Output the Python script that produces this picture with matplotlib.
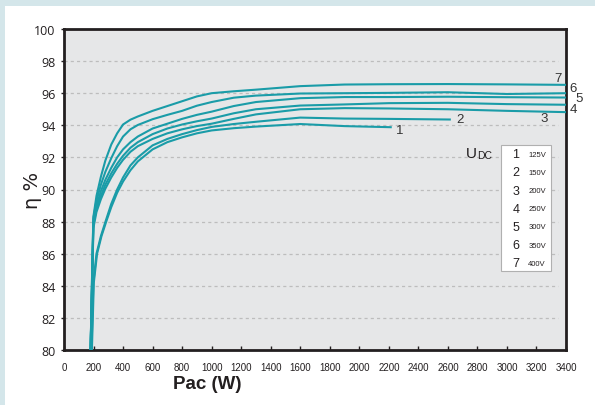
import matplotlib
matplotlib.use("Agg")
import matplotlib.pyplot as plt
from matplotlib.patches import Rectangle

# efficiency curves, one per DC input voltage
p_1 = [189, 202, 224, 254, 286, 320, 360, 400, 450, 500, 600, 700, 800, 900, 1000,
       1150, 1300, 1600, 1900, 2220]
eta_1 = [80, 84.2, 86, 87.1, 88, 88.9, 89.8, 90.5, 91.2, 91.75, 92.5, 92.95, 93.25, 93.5, 93.68,
         93.82, 93.92, 94.08, 93.95, 93.88]

p_2 = [186, 199, 220, 250, 281, 320, 360, 400, 450, 500, 600, 700, 800, 900, 1000,
       1150, 1300, 1600, 1900, 2200, 2620]
eta_2 = [80, 84.2, 86, 87.1, 88, 89.1, 90.0, 90.75, 91.5, 92.0, 92.75, 93.15, 93.45, 93.7, 93.9,
         94.08, 94.22, 94.48, 94.42, 94.4, 94.36]

p_common = [180, 193, 199, 220, 250, 280, 320, 360, 400, 450, 500, 600, 700, 800, 900, 1000,
            1150, 1300, 1600, 1900, 2200, 2600, 3000, 3400]
eta_3 = [80, 85.0, 87.6, 88.6, 89.4, 90.05, 90.75, 91.35, 91.85, 92.35, 92.7, 93.15, 93.5, 93.75,
         93.95, 94.1, 94.4, 94.68, 95.0, 95.07, 95.05, 95.0, 94.9, 94.82]
eta_4 = [80, 85.2, 87.8, 88.8, 89.6, 90.3, 91.0, 91.6, 92.1, 92.6, 92.95, 93.45, 93.8, 94.05,
         94.25, 94.42, 94.75, 95.0, 95.23, 95.3, 95.38, 95.40, 95.32, 95.28]
eta_5 = [80, 85.4, 88.0, 89.0, 89.9, 90.6, 91.35, 92.0, 92.5, 92.95, 93.3, 93.8, 94.1, 94.4,
         94.65, 94.85, 95.2, 95.45, 95.69, 95.76, 95.76, 95.78, 95.75, 95.73]
eta_6 = [80, 85.8, 88.2, 89.3, 90.3, 91.1, 91.95, 92.7, 93.3, 93.75, 94.02, 94.38, 94.65, 94.9,
         95.22, 95.45, 95.72, 95.85, 95.98, 96.0, 96.02, 96.06, 95.95, 96.0]
eta_7 = [80, 86, 88.3, 89.6, 90.8, 91.8, 92.8, 93.5, 94.05, 94.35, 94.55, 94.9, 95.2, 95.5,
         95.8, 96.0, 96.12, 96.22, 96.44, 96.54, 96.56, 96.57, 96.55, 96.52]

curve_ids = ["1", "2", "3", "4", "5", "6", "7"]
voltages = ["125V", "150V", "200V", "250V", "300V", "350V", "400V"]
x_ticks = list(range(0, 3401, 200))
y_ticks = list(range(80, 101, 2))

# where the curve numbers sit (data coords)
label_pos = [(2275, 93.72), (2683, 94.40), (3252, 94.47), (3449, 95.03),
             (3490, 95.71), (3450, 96.34), (3347, 96.96)]

teal = "#1a9ca8"
dark = "#231f20"

fig = plt.figure(figsize=(5.95, 4.06), dpi=100)
fig.patch.set_facecolor("#d4e6ea")
fig.patches.append(Rectangle((5 / 595, 0), 1, (406 - 7) / 406, transform=fig.transFigure,
                             facecolor="white", edgecolor="none", zorder=-5))

ax = fig.add_axes([64 / 595, 55 / 406, (566 - 64) / 595, 321 / 406])
ax.set_zorder(2)
ax.set_facecolor("#e6e7e8")

curves = [(p_1, eta_1), (p_2, eta_2), (p_common, eta_3), (p_common, eta_4),
          (p_common, eta_5), (p_common, eta_6), (p_common, eta_7)]
for p, eta in curves:
    ax.plot(p, eta, color=teal, lw=1.5, solid_joinstyle="round", solid_capstyle="butt", zorder=3)

ax.set_xlim(0, 3400)
ax.set_ylim(80, 100)
ax.set_xticks(x_ticks)
ax.set_yticks(y_ticks)
ax.set_xticklabels([str(t) for t in x_ticks], fontsize=7, family="Liberation Sans", color=dark)
ax.set_yticklabels([str(t) for t in y_ticks], fontsize=9, family="Open Sans", color=dark)
ax.tick_params(axis="x", direction="in", length=3, width=1, color=dark, pad=9)
ax.tick_params(axis="y", direction="out", length=2, width=1, color=dark, pad=4)

for y in y_ticks[1:-1]:
    ax.axhline(y, xmin=0, xmax=0.985, color="#bdbdbd", lw=0.9, ls=(0, (2.5, 2.5)), zorder=1)

for s in ax.spines.values():
    s.set_color(dark)
    s.set_linewidth(2)

for (lx, ly), cid in zip(label_pos, curve_ids):
    ax.text(lx, ly, cid, fontsize=9.5, color="#333333", ha="center", va="center",
            family="Liberation Sans", clip_on=False)

# legend box for the DC voltages
ax.add_patch(Rectangle((0.871, 0.245), 0.1, 0.395, transform=ax.transAxes,
                       facecolor="white", edgecolor="#b0b0b0", lw=0.8, zorder=4))
for i, (cid, v) in enumerate(zip(curve_ids, voltages)):
    yy = 0.61 - i * 0.0567
    ax.text(0.9, yy, cid, transform=ax.transAxes, fontsize=9, color=dark,
            ha="center", va="center", family="Liberation Sans", zorder=5)
    ax.text(0.925, yy, v, transform=ax.transAxes, fontsize=5.5, color=dark,
            ha="left", va="center", family="Liberation Sans", zorder=5)

ax.text(0.8, 0.615, "U", transform=ax.transAxes, fontsize=11, color=dark,
        ha="left", va="center", family="Liberation Sans")
ax.text(0.822, 0.608, "DC", transform=ax.transAxes, fontsize=7.5, color=dark,
        ha="left", va="center", family="Liberation Sans")

fig.text(207 / 595, 1 - 385 / 406, "Pac (W)", fontsize=13.5, fontweight="bold",
         family="Liberation Sans", color=dark, ha="center", va="center")
fig.text(33 / 595, 1 - 190 / 406, "η %", fontsize=14, rotation=90,
         family="DejaVu Sans", color=dark, ha="center", va="center")

fig.savefig("out.png", dpi=100, facecolor=fig.get_facecolor())
